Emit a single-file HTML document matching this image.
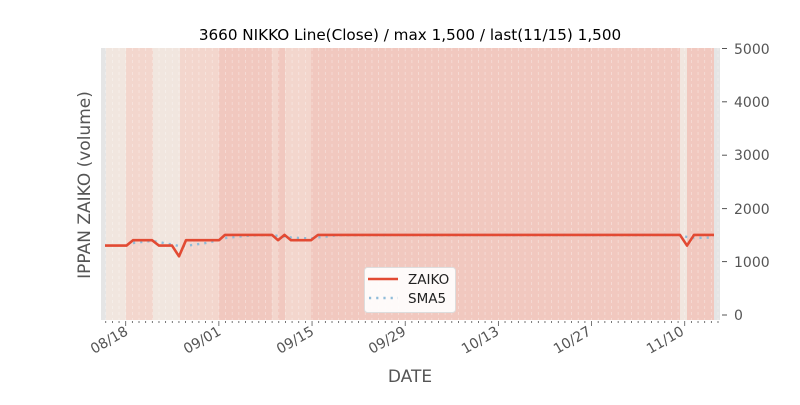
<!DOCTYPE html>
<html><head><meta charset="utf-8"><style>
body{margin:0;background:#fff;width:800px;height:400px;overflow:hidden}
text{font-family:"DejaVu Sans","Liberation Sans",sans-serif}
</style></head><body>
<svg width="800" height="400" xmlns="http://www.w3.org/2000/svg">
<rect x="0" y="0" width="800" height="400" fill="#fff"/>
<rect x="101" y="48" width="619" height="272" fill="#e5e5e5"/>
<g>
<rect x="106" y="48" width="20" height="272" fill="#f1e6df"/>
<rect x="126" y="48" width="27" height="272" fill="#f3d6cd"/>
<rect x="153" y="48" width="27" height="272" fill="#f1e6df"/>
<rect x="180" y="48" width="39" height="272" fill="#f3d6cd"/>
<rect x="219" y="48" width="53" height="272" fill="#f1c8bf"/>
<rect x="272" y="48" width="6" height="272" fill="#f3d6cd"/>
<rect x="278" y="48" width="7" height="272" fill="#f1c8bf"/>
<rect x="285" y="48" width="26" height="272" fill="#f3d6cd"/>
<rect x="311" y="48" width="369" height="272" fill="#f1c8bf"/>
<rect x="680" y="48" width="7" height="272" fill="#f1e6df"/>
<rect x="687" y="48" width="27" height="272" fill="#f1c8bf"/>
</g>
<g id="grid" stroke="#fff" stroke-opacity="0.4" stroke-width="0.8" stroke-dasharray="3,3"></g>
<g id="ticks" stroke="#555" stroke-width="0.8"></g>
<polyline fill="none" stroke="#8fbcd9" stroke-width="2.4" stroke-dasharray="2.2,5" points="133,243 146,241.5 152,241 159,242 166,243.5 172,244.5 179,246 186,246 192,245 206,243 219,240 225,238 245,236 259,235 272,235 278,236 291,237.5 311,238.5 318,237.5 331,236 338,235 680,235 687,237 694,238 714,237.5"/>
<polyline fill="none" stroke="#e24a33" stroke-width="2.6" stroke-linejoin="round" points="105,245.6 126.5,245.6 133,240.2 152,240.2 159,245.6 172,245.6 179,256.3 186,240.2 219,240.2 225,234.9 272,234.9 278,240.2 284.5,234.9 291,240.2 311,240.2 318,234.9 680,234.9 687,245.6 694,234.9 714,234.9"/>
<g stroke="#555" stroke-width="1">
<line x1="722" y1="48.5" x2="727" y2="48.5"/><line x1="722" y1="101.8" x2="727" y2="101.8"/>
<line x1="722" y1="155.2" x2="727" y2="155.2"/><line x1="722" y1="208.6" x2="727" y2="208.6"/>
<line x1="722" y1="261.6" x2="727" y2="261.6"/><line x1="722" y1="315" x2="727" y2="315"/>
</g>
<g font-size="14" fill="#555">
<text x="734" y="54">5000</text><text x="734" y="107">4000</text><text x="734" y="160">3000</text>
<text x="734" y="214">2000</text><text x="734" y="267">1000</text><text x="734" y="320">0</text>
</g>
<g font-size="14" fill="#555" text-anchor="end">
<text transform="translate(129,334) rotate(-30)">08/18</text>
<text transform="translate(222,334) rotate(-30)">09/01</text>
<text transform="translate(315,334) rotate(-30)">09/15</text>
<text transform="translate(407,334) rotate(-30)">09/29</text>
<text transform="translate(500,334) rotate(-30)">10/13</text>
<text transform="translate(592,334) rotate(-30)">10/27</text>
<text transform="translate(685,334) rotate(-30)">11/10</text>
</g>
<text x="410" y="382" font-size="17" fill="#555" text-anchor="middle">DATE</text>
<text transform="translate(90,185) rotate(-90)" font-size="17" fill="#555" text-anchor="middle">IPPAN ZAIKO (volume)</text>
<text x="410" y="40" font-size="15.2" fill="#000" text-anchor="middle">3660 NIKKO Line(Close) / max 1,500 / last(11/15) 1,500</text>
<rect x="364.5" y="267.5" width="91" height="45" rx="3" fill="#fff" fill-opacity="0.9" stroke="#ddd"/>
<line x1="368" y1="279" x2="398" y2="279" stroke="#e24a33" stroke-width="2.6"/>
<line x1="369" y1="298" x2="398" y2="298" stroke="#8fbcd9" stroke-width="2.4" stroke-dasharray="2.2,5"/>
<text x="408" y="284" font-size="13.5" fill="#222">ZAIKO</text>
<text x="408" y="303" font-size="13.5" fill="#222">SMA5</text>
</svg>
<script>
var g=document.getElementById('grid'),t=document.getElementById('ticks'),ns='http://www.w3.org/2000/svg';
for(var d=-3;d<=93;d++){var x=125.7+d*6.655;if(x<101||x>720)continue;
var l=document.createElementNS(ns,'line');l.setAttribute('x1',x);l.setAttribute('x2',x);l.setAttribute('y1',48);l.setAttribute('y2',320);g.appendChild(l);
var k=document.createElementNS(ns,'line');k.setAttribute('x1',x);k.setAttribute('x2',x);k.setAttribute('y1',321);k.setAttribute('y2',(d%14==0)?326:323);t.appendChild(k);}
</script>
</body></html>
